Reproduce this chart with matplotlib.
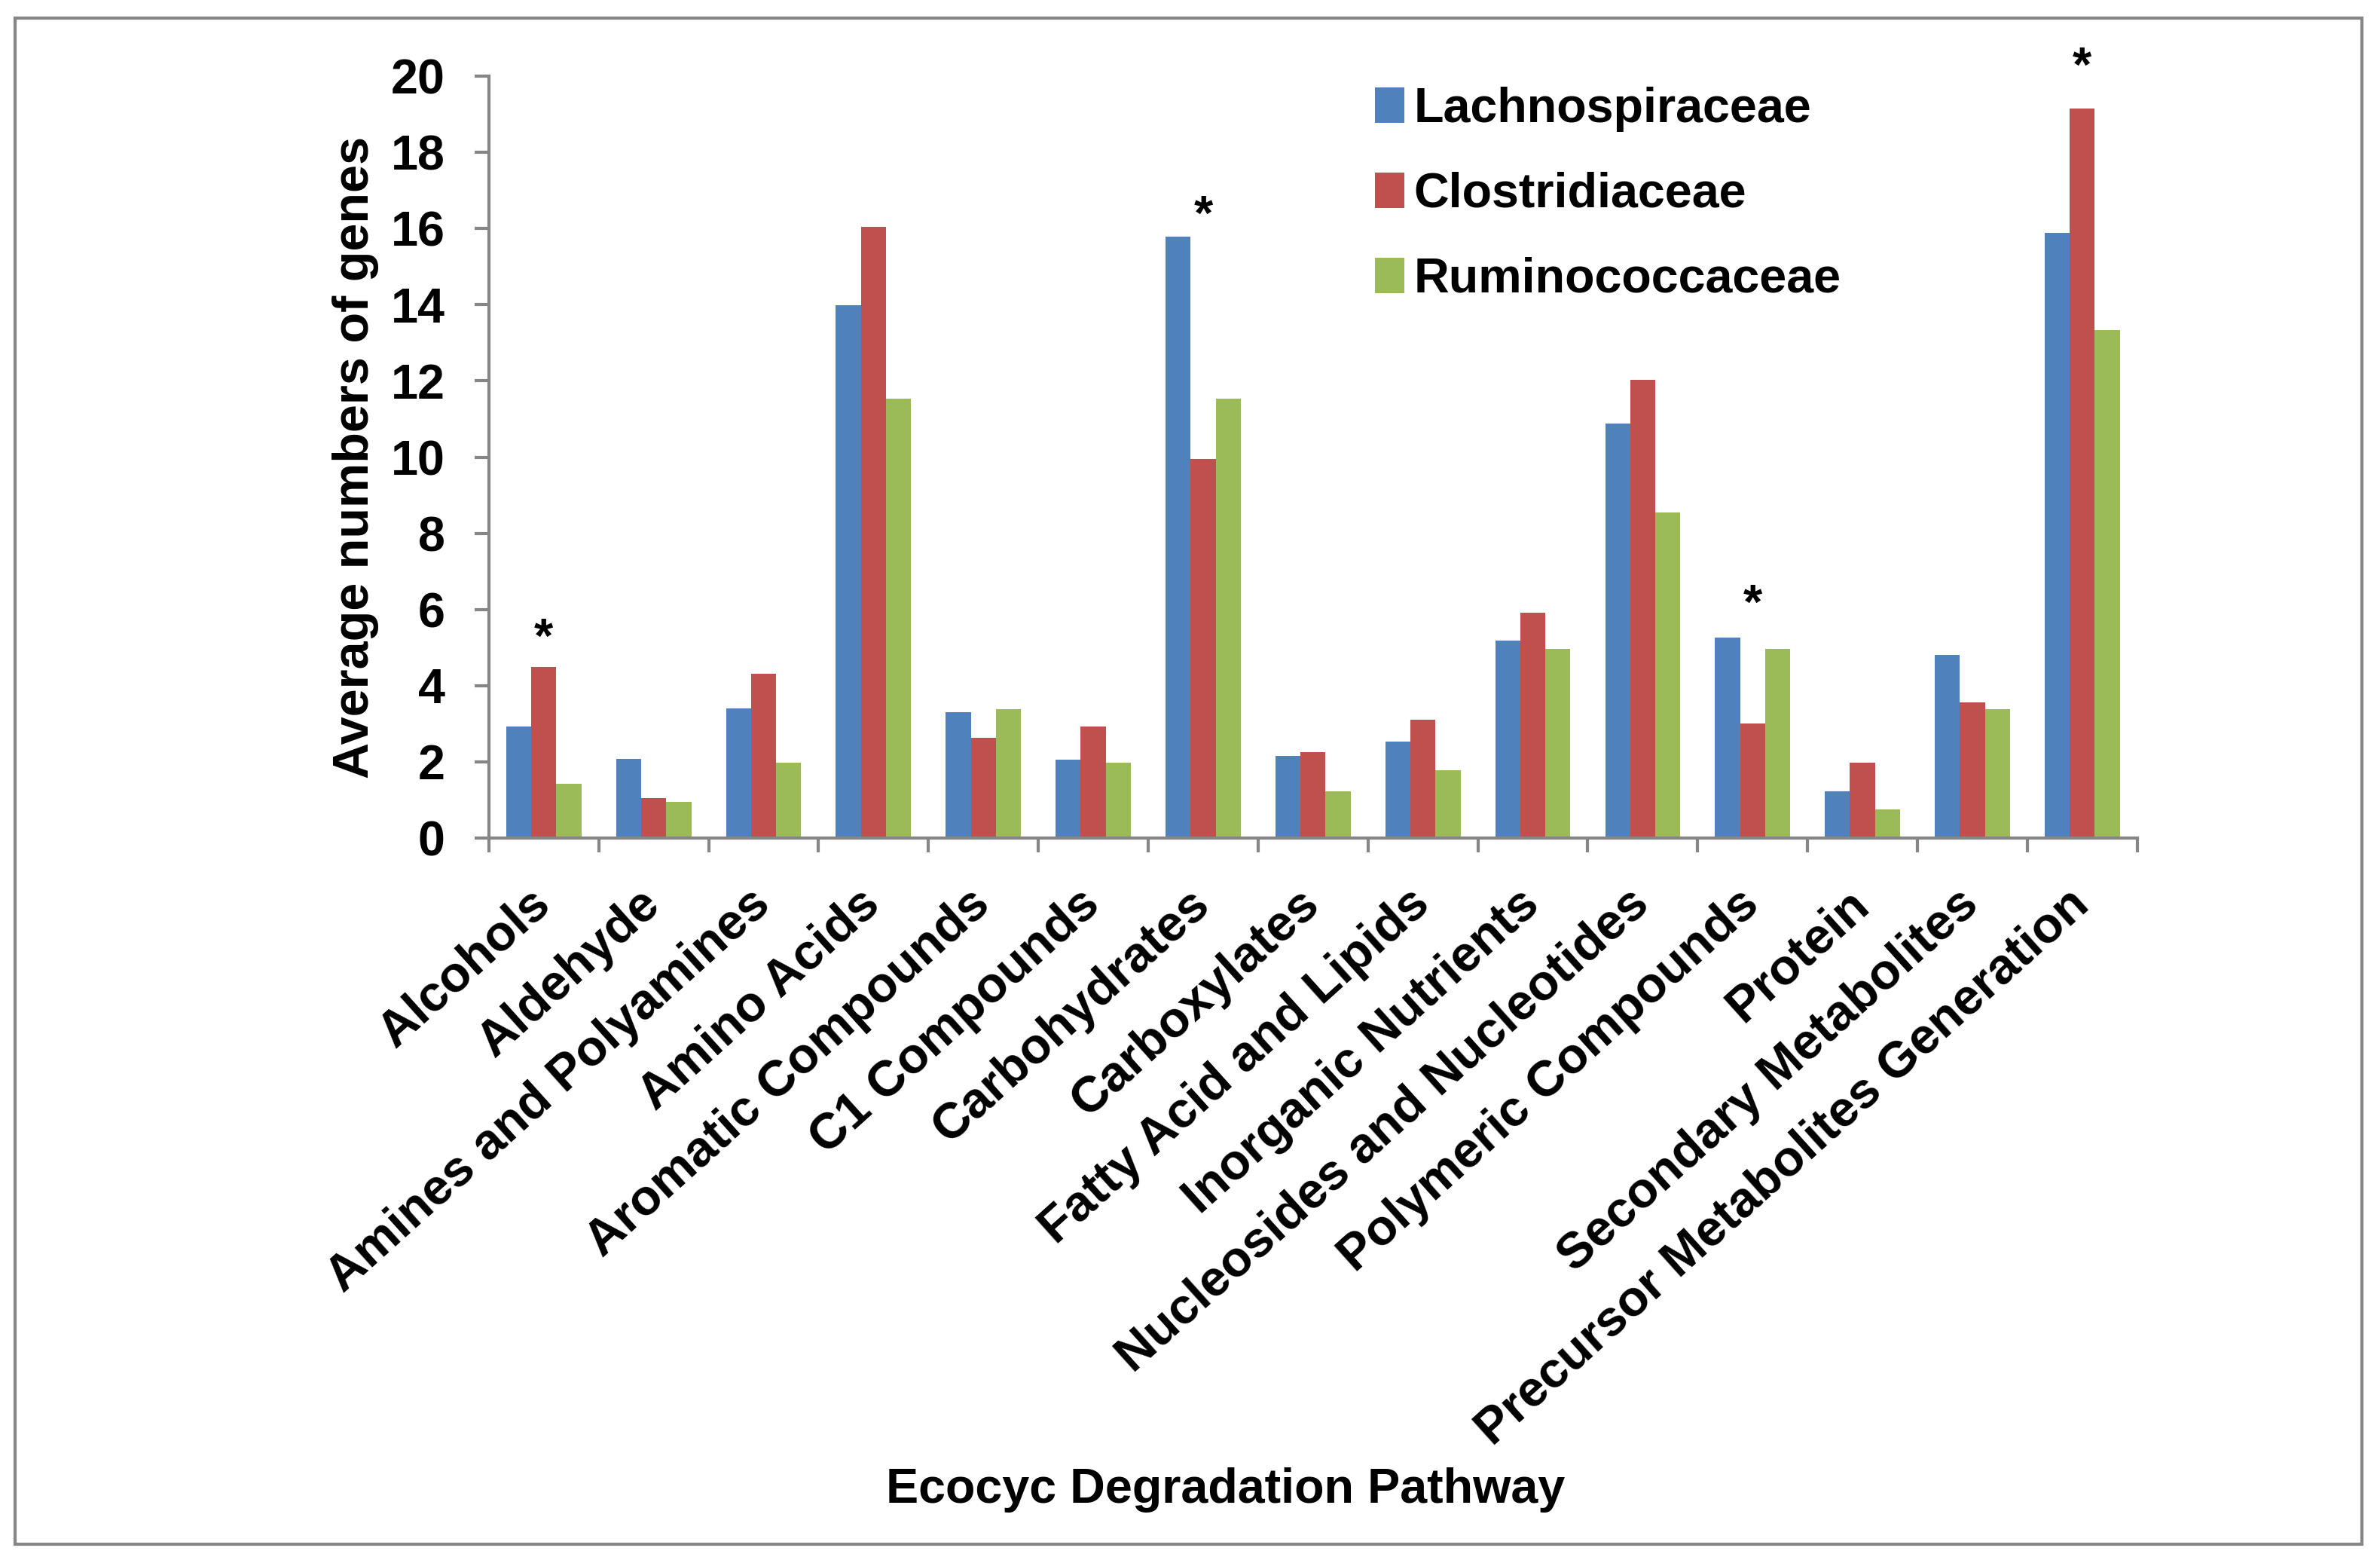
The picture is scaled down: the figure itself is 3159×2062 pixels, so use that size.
import numpy as np
import matplotlib
matplotlib.use('Agg')
import matplotlib.pyplot as plt
from matplotlib.patches import Rectangle

# Data
categories = ['Alcohols', 'Aldehyde', 'Amines and Polyamines', 'Amino Acids',
              'Aromatic Compounds', 'C1 Compounds', 'Carbohydrates', 'Carboxylates',
              'Fatty Acid and Lipids', 'Inorganic Nutrients', 'Nucleosides and Nucleotides',
              'Polymeric Compounds', 'Protein', 'Secondary Metabolites',
              'Precursor Metabolites Generation']
lachno = [2.92, 2.08, 3.40, 13.98, 3.30, 2.05, 15.78, 2.15, 2.53, 5.18, 10.89, 5.26, 1.23, 4.80, 15.88]
clostri = [4.50, 1.04, 4.32, 16.05, 2.63, 2.92, 9.96, 2.26, 3.11, 5.91, 12.02, 3.01, 1.98, 3.57, 19.15]
rumino = [1.42, 0.95, 1.98, 11.54, 3.38, 1.98, 11.54, 1.23, 1.78, 4.97, 8.55, 4.97, 0.75, 3.38, 13.33]
series_names = ['Lachnospiraceae', 'Clostridiaceae', 'Ruminococcaceae']

# significance markers: category index and height of the star
star_idx = [0, 6, 11, 14]
star_y = [5.2, 16.3, 6.1, 20.2]

plt.rcParams['font.family'] = ['Liberation Sans', 'DejaVu Sans']
plt.rcParams['font.weight'] = 'bold'
fs = 15.5
axis_gray = '#868686'
colors = ['#4F81BD', '#C0504D', '#9BBB59']

fig = plt.figure(figsize=(3159 / 300, 2062 / 300), dpi=300)
ax = fig.add_axes([0.2054, 0.4607, 0.898 - 0.2054, 0.951 - 0.4607])

x = np.arange(len(categories))
w = 0.228
for k, (vals, name) in enumerate(zip([lachno, clostri, rumino], series_names)):
    ax.bar(x + (k - 1) * w, vals, width=w, color=colors[k], label=name, zorder=2)

for i, y in zip(star_idx, star_y):
    ax.text(x[i], y, '*', ha='center', va='center', fontsize=fs, fontweight='bold', clip_on=False)

ax.set_xlim(-0.5, len(categories) - 0.5)
ax.set_ylim(0, 20)
ax.set_yticks(np.arange(0, 21, 2))
ax.set_xticks(np.arange(-0.5, len(categories), 1.0))
ax.set_xticklabels([])
ax.set_xticks(x, minor=True)
ax.set_xticklabels(categories, minor=True, rotation=42, ha='right', va='center',
                   rotation_mode='anchor', fontsize=16, fontweight='bold')
ax.tick_params(axis='x', which='minor', length=0, pad=19)
ax.tick_params(axis='both', which='major', direction='out', length=4.5, width=1.0,
               color=axis_gray, labelsize=fs)
ax.tick_params(axis='y', pad=9.5)

for s in ['top', 'right']:
    ax.spines[s].set_visible(False)
for s in ['left', 'bottom']:
    ax.spines[s].set_color(axis_gray)
    ax.spines[s].set_linewidth(1.0)

ax.set_ylabel('Average numbers of genes', fontsize=16, fontweight='bold')
ax.yaxis.set_label_coords(-0.0665, 0.5)
fig.text(0.515, 0.041, 'Ecocyc Degradation Pathway', ha='center', va='center',
         fontsize=fs, fontweight='bold')

ax.legend(loc='upper left', bbox_to_anchor=(1825 / 3159, 1 - 115 / 2062),
          bbox_transform=fig.transFigure, frameon=False, fontsize=fs,
          handlelength=0.6, handleheight=0.75, handletextpad=0.2,
          labelspacing=0.82, borderaxespad=0, borderpad=0)

fig.patches.append(Rectangle((20 / 3159, 13 / 2062), 3115 / 3159, 2025 / 2062,
                             transform=fig.transFigure, fill=False,
                             edgecolor=axis_gray, linewidth=1.0))

fig.savefig('out.png', dpi=300)
